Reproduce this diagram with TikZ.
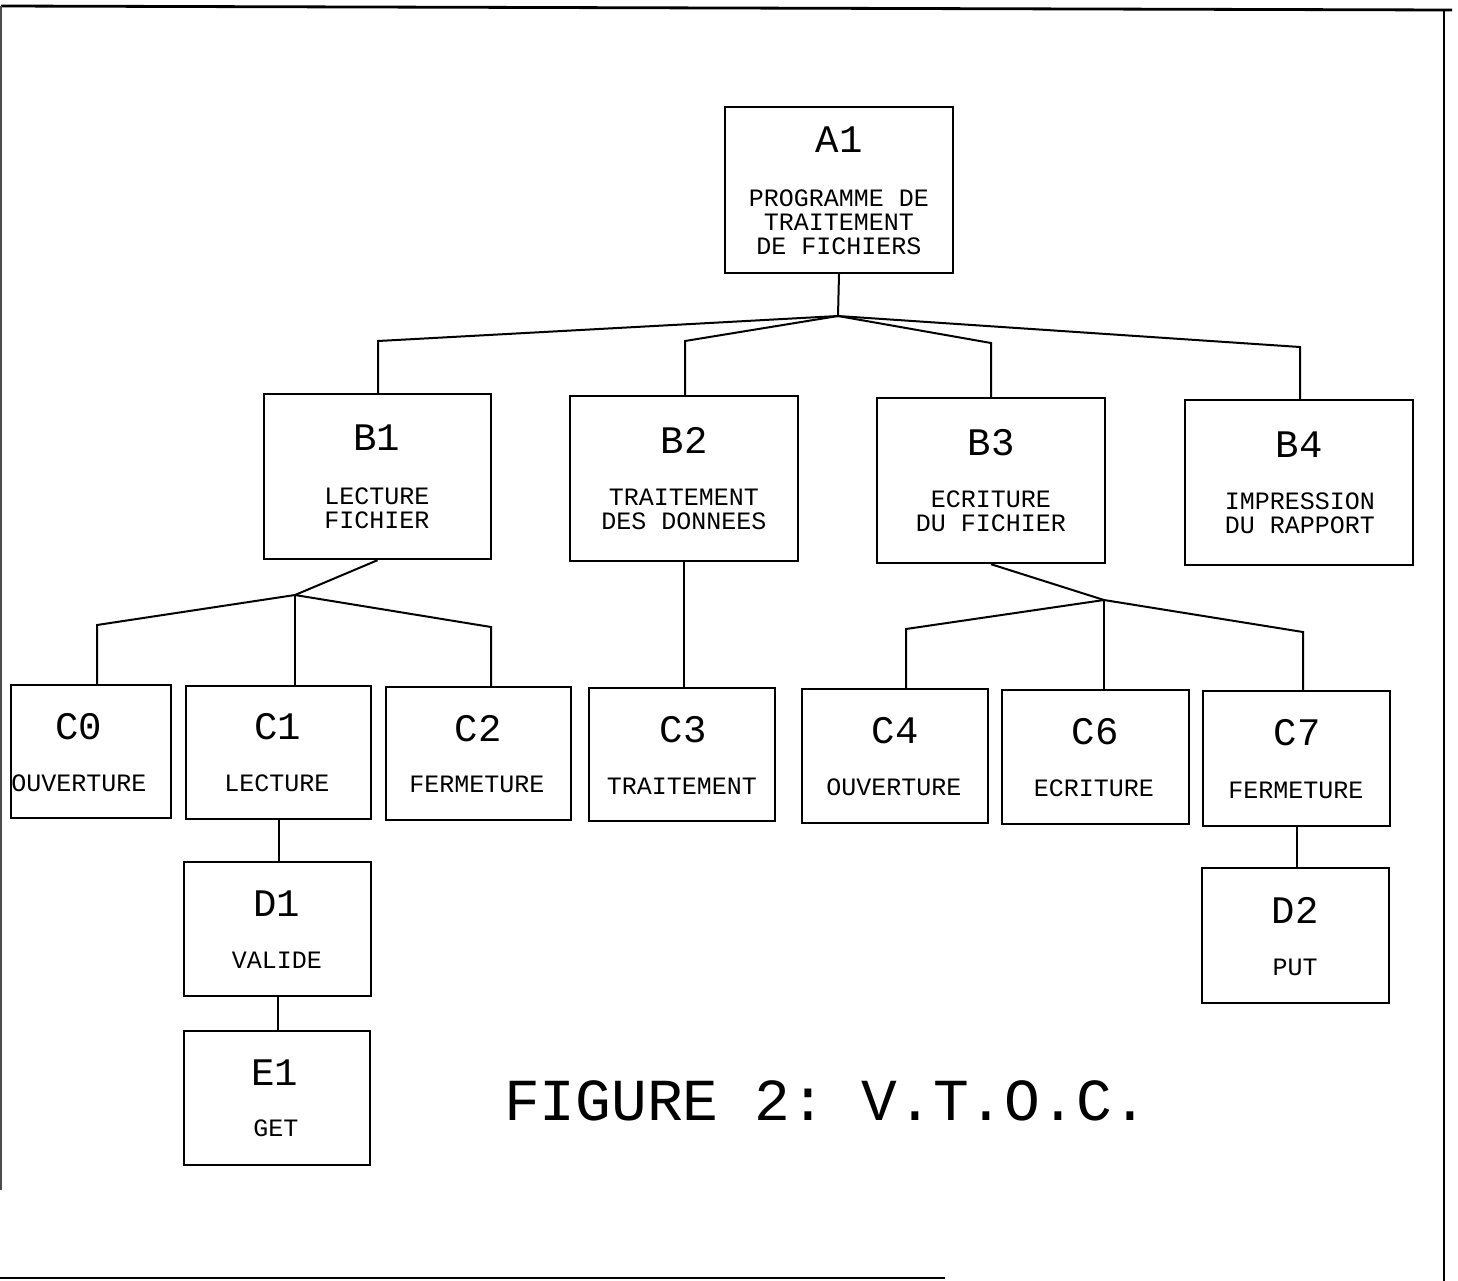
\documentclass[tikz,border=0pt]{standalone}
\usepackage{fontspec}
\setmonofont{Liberation Mono}
\usetikzlibrary{fit}
\begin{document}
\begin{tikzpicture}[x=0.5pt,y=-0.5pt,
  box/.style={draw, line width=1.2pt, inner sep=0pt},
  hdr/.style={font=\ttfamily\fontsize{19.5}{20}\selectfont, inner sep=0pt},
  lbl/.style={font=\ttfamily\fontsize{12.5}{12}\selectfont, inner sep=0pt, align=center},
  ttl/.style={font=\ttfamily\fontsize{29.8}{32}\selectfont, inner sep=0pt},
  link/.style={line width=1pt},
  frame/.style={line width=1.4pt}]
\useasboundingbox (0,0) rectangle (1458,1281);

% frame
\coordinate (fTL) at (1,6);
\coordinate (fTR) at (1452,10);
\coordinate (fRB) at (1444,1281);
\coordinate (fLB) at (1,1190);
\coordinate (fBL) at (0,1278);
\coordinate (fBR) at (945,1278);
\draw[frame] (fTL) -- (fTR);
\draw[frame] (1444,10) -- (fRB);
\draw[line width=0.8pt, black!70] (fTL) -- (fLB);
\draw[frame] (fBL) -- (fBR);

% boxes
\node[box, fit={(725,107) (953,273)}] (A1) {};
\node[box, fit={(264,394) (491,559)}] (B1) {};
\node[box, fit={(570,396) (798,561)}] (B2) {};
\node[box, fit={(877,398) (1105,563)}] (B3) {};
\node[box, fit={(1185,400) (1413,565)}] (B4) {};
\node[box, fit={(11,685) (171,818)}] (C0) {};
\node[box, fit={(186,686) (371,819)}] (C1) {};
\node[box, fit={(386,687) (571,820)}] (C2) {};
\node[box, fit={(589,688) (775,821)}] (C3) {};
\node[box, fit={(802,689) (988,823)}] (C4) {};
\node[box, fit={(1002,690) (1189,824)}] (C6) {};
\node[box, fit={(1203,691) (1390,826)}] (C7) {};
\node[box, fit={(184,862) (371,996)}] (D1) {};
\node[box, fit={(184,1031) (370,1165)}] (E1) {};
\node[box, fit={(1202,868) (1389,1003)}] (D2) {};

% texts
\node[hdr] (A1h) at (839,140) {A1};
\node[lbl] (A1t) at (839,222) {PROGRAMME DE\\TRAITEMENT\\DE FICHIERS};
\node[hdr] (B1h) at (377,438) {B1};
\node[lbl] (B1t) at (377,508) {LECTURE\\FICHIER};
\node[hdr] (B2h) at (684,440) {B2};
\node[lbl] (B2t) at (684,509) {TRAITEMENT\\DES DONNEES};
\node[hdr] (B3h) at (991,443) {B3};
\node[lbl] (B3t) at (991,511) {ECRITURE\\DU FICHIER};
\node[hdr] (B4h) at (1299,445) {B4};
\node[lbl] (B4t) at (1300,513) {IMPRESSION\\DU RAPPORT};
\node[hdr] (C0h) at (79,727) {C0};
\node[lbl] (C0t) at (79,783) {OUVERTURE};
\node[hdr] (C1h) at (278,727) {C1};
\node[lbl] (C1t) at (277,783) {LECTURE};
\node[hdr] (C2h) at (478,729) {C2};
\node[lbl] (C2t) at (477,784) {FERMETURE};
\node[hdr] (C3h) at (683,730) {C3};
\node[lbl] (C3t) at (682,786) {TRAITEMENT};
\node[hdr] (C4h) at (895,731) {C4};
\node[lbl] (C4t) at (894,787) {OUVERTURE};
\node[hdr] (C6h) at (1095,732) {C6};
\node[lbl] (C6t) at (1094,788) {ECRITURE};
\node[hdr] (C7h) at (1297,733) {C7};
\node[lbl] (C7t) at (1296,790) {FERMETURE};
\node[hdr] (D1h) at (277,904) {D1};
\node[lbl] (D1t) at (277,960) {VALIDE};
\node[hdr] (E1h) at (275,1073) {E1};
\node[lbl] (E1t) at (276,1128) {GET};
\node[hdr] (D2h) at (1295,910) {D2};
\node[lbl] (D2t) at (1295,967) {PUT};
\node[ttl] (title) at (826,1101) {FIGURE 2: V.T.O.C.};

% connectors: A1 to B level
\coordinate (J0) at (838,316);
\coordinate (kB1) at (378,341);
\coordinate (kB2) at (685,341);
\coordinate (kB3) at (991,343);
\coordinate (kB4) at (1300,347);
\draw[link] (A1.south) -- (J0);
\draw[link] (J0) -- (kB1) -- (kB1 |- B1.north);
\draw[link] (J0) -- (kB2) -- (kB2 |- B2.north);
\draw[link] (J0) -- (kB3) -- (kB3 |- B3.north);
\draw[link] (J0) -- (kB4) -- (kB4 |- B4.north);

% B1 to C0, C1, C2
\coordinate (J1) at (295,595);
\coordinate (kC0) at (97,625);
\coordinate (kC2) at (491,627);
\draw[link] (B1.south) -- (J1);
\draw[link] (J1) -- (kC0) -- (kC0 |- C0.north);
\draw[link] (J1) -- (J1 |- C1.north);
\draw[link] (J1) -- (kC2) -- (kC2 |- C2.north);

% B2 to C3
\draw[link] (B2.south) -- (B2.south |- C3.north);

% B3 to C4, C6, C7
\coordinate (J3) at (1104,600);
\coordinate (kC4) at (906,629);
\coordinate (kC7) at (1303,632);
\draw[link] (B3.south) -- (J3);
\draw[link] (J3) -- (kC4) -- (kC4 |- C4.north);
\draw[link] (J3) -- (J3 |- C6.north);
\draw[link] (J3) -- (kC7) -- (kC7 |- C7.north);

% lower levels
\draw[link] (C1.south) -- (C1.south |- D1.north);
\draw[link] (D1.south) -- (D1.south |- E1.north);
\draw[link] (C7.south) -- (C7.south |- D2.north);
\end{tikzpicture}
\end{document}
